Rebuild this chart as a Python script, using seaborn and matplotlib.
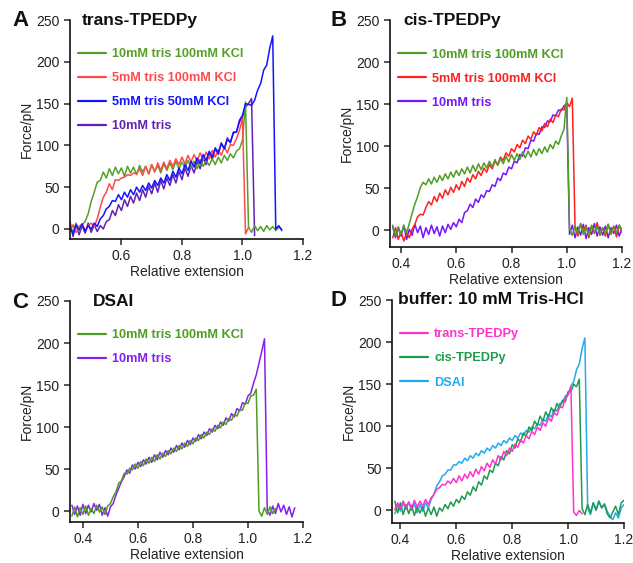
import numpy as np
import matplotlib
matplotlib.use("Agg")
import matplotlib.pyplot as plt
import seaborn as sns

sns.set_style("ticks")
plt.rcParams['font.family'] = ['Liberation Sans', 'DejaVu Sans']

STEP = 0.01

# ---- panel A: trans-TPEDPy ----
a_green_x0 = 0.43
a_green = [3, -5, 7, -3, 5, 9, 18, 33, 44, 56, 58, 68, 61, 72, 64, 74, 66, 73, 63, 75,
           67, 74, 65, 76, 68, 75, 66, 77, 69, 76, 67, 78, 70, 79, 71, 81, 72, 80, 73, 82,
           74, 81, 72, 83, 75, 82, 76, 84, 77, 86, 79, 88, 82, 90, 85, 93, 96, 106, 152, 2,
           -4, 4, -2, 3, -3, 4, -1, 3, -2, 2, 0]
a_red_x0 = 0.43
a_red = [-3, 5, -4, 3, 6, -2, 4, 7, 3, 12, 26, 38, 44, 54, 47, 59, 58, 61, 62, 65,
         64, 67, 66, 72, 64, 75, 66, 77, 68, 79, 70, 80, 72, 82, 75, 84, 77, 86, 78, 88,
         80, 89, 81, 91, 83, 92, 84, 94, 86, 95, 88, 98, 91, 101, 100, 108, 118, 132, -6, 2]
a_blue_x0 = 0.43
a_blue = [3, -6, 5, -1, 6, -3, 4, 0, 7, 3, 12, 16, 24, 27, 34, 33, 41, 35, 44, 38,
          47, 41, 50, 44, 52, 46, 55, 49, 58, 52, 61, 55, 65, 58, 69, 62, 73, 66, 77, 70,
          81, 74, 85, 78, 89, 82, 93, 86, 97, 91, 102, 96, 107, 104, 115, 116, 130, 136, 150, 149,
          148, 154, 166, 174, 190, 196, 216, 231, 0, 4, -2]
a_purple_x0 = 0.43
a_purple = [9, -9, 6, -7, 4, -5, 7, -4, 5, -3, 4, 0, 9, 11, 22, 16, 29, 22, 35, 27,
            39, 31, 43, 34, 47, 38, 51, 42, 55, 44, 58, 48, 61, 52, 65, 55, 69, 59, 73, 63,
            76, 67, 81, 72, 85, 77, 91, 83, 96, 89, 103, 96, 109, 103, 116, 116, 128, 134, 146, 150,
            156, -8]

# ---- panel B: cis-TPEDPy ----
b_green_x0 = 0.37
b_green = [6, -7, 4, -5, 5, -3, 8, 20, 31, 40, 51, 57, 54, 61, 55, 63, 57, 65, 59, 67,
           61, 69, 63, 71, 65, 73, 67, 75, 68, 77, 70, 79, 72, 80, 74, 82, 75, 84, 77, 85,
           79, 88, 81, 90, 83, 91, 84, 93, 86, 94, 87, 96, 89, 97, 91, 99, 93, 102, 97, 106,
           102, 112, 120, 158,
           2, -6, 5, -4, 7, -5, 4, -7, 6, -3, 5, -6, 3, -4, 7, -5, 4, -3, 6, 0]
b_red_x0 = 0.37
b_red = [-9, 3, -11, -2, -13, -3, -9, 1, 7, 16, 19, 18, 27, 34, 30, 40, 34, 44, 38, 48,
         42, 51, 45, 54, 48, 58, 52, 62, 57, 66, 61, 70, 65, 74, 69, 78, 73, 82, 78, 87,
         83, 92, 88, 97, 93, 102, 98, 107, 103, 112, 108, 117, 113, 122, 118, 127, 123, 132, 128, 137,
         135, 144, 143, 152, 147, 157,
         3, -7, 8, -3, 6, -9, 5, -4, 9, -6, 3, -7, 7, -4, 5, -8, 6, -3]
b_purple_x0 = 0.37
b_purple = [4, -9, 3, -7, 6, -11, 1, -6, 7, -3, 5, -9, 3, -5, 6, -4, 4, -7, 5, -3,
            7, 1, 9, 4, 13, 9, 21, 23, 31, 27, 37, 33, 42, 39, 47, 46, 54, 52, 62, 59,
            68, 66, 75, 73, 82, 80, 90, 88, 98, 97, 107, 106, 115, 114, 123, 122, 130, 129, 137, 136,
            143, 142, 148, 150,
            -5, 6, -9, 4, -6, 7, -10, 3, -5, 8, -7, 4, -6, 5, -9, 3, -4, 6, -7, 2]

# ---- panel C: DSAI ----
c_green_x0 = 0.36
c_green = [-6, 5, -7, 4, -4, 6, -5, 3, -3, 7, -1, 5, -4, 6, 9, 17, 23, 33, 36, 45,
           44, 51, 49, 56, 51, 59, 54, 62, 57, 64, 59, 67, 62, 69, 65, 72, 68, 75, 71, 78,
           74, 81, 77, 84, 80, 87, 84, 91, 87, 94, 91, 98, 95, 102, 99, 106, 103, 110, 108, 115,
           113, 121, 120, 129, 128, 137, 138, 145, 0, -6, 4, -4, 5, -3, 3]
c_purple_x0 = 0.36
c_purple = [7, -4, 6, -5, 8, -3, 7, -1, 9, 1, 8, -5, 4, -6, 5, 9, 19, 27, 35, 41,
            49, 45, 55, 50, 58, 53, 61, 56, 64, 58, 67, 61, 70, 64, 72, 67, 75, 70, 78, 73,
            81, 76, 84, 79, 87, 83, 91, 86, 94, 90, 98, 94, 102, 98, 106, 102, 111, 107, 116, 112,
            122, 119, 129, 127, 137, 140, 152, 162, 176, 190, 205,
            2, -5, 6, -3, 9, -1, 7, -4, 5, -7, 4]

# ---- panel D: buffer 10 mM Tris-HCl ----
d_magenta_x0 = 0.38
d_magenta = [1, 9, 2, 11, 3, 10, 2, 12, 4, 11, 5, 13, 7, 15, 19, 25, 27, 31, 30, 35,
             32, 38, 33, 41, 35, 43, 38, 46, 40, 49, 43, 52, 47, 56, 51, 60, 55, 65, 60, 70,
             65, 74, 70, 79, 75, 84, 80, 89, 85, 94, 90, 99, 95, 104, 100, 110, 106, 116, 113, 123,
             122, 133, 137, 147, -2, -6, 0, -4]
d_green_x0 = 0.38
d_green = [11, -3, 9, -5, 7, -4, 6, -6, 4, -3, 5, -7, 3, -5, 4, -7, 3, -1, 7, 2,
           10, 5, 13, 9, 17, 13, 22, 18, 28, 23, 34, 30, 41, 37, 48, 45, 56, 53, 64, 60,
           71, 67, 78, 74, 85, 81, 92, 88, 99, 95, 106, 101, 112, 106, 117, 111, 122, 116, 127, 122,
           131, 129, 141, 141, 150, 147, 156,
           2, -5, 7, -3, 9, 0, 11, 3, 7, -4, -9, -2, 5, -5, 9, 12]
d_cyan_x0 = 0.38
d_cyan = [-4, 7, -1, 9, 1, 10, 0, 8, -3, 7, -1, 9, 3, 13, 19, 29, 34, 41, 43, 48,
          48, 54, 54, 58, 56, 62, 59, 65, 62, 68, 65, 71, 68, 74, 71, 77, 74, 80, 77, 83,
          80, 86, 83, 89, 86, 92, 89, 95, 93, 99, 97, 103, 101, 108, 106, 114, 111, 120, 118, 127,
          128, 136, 138, 148, 153, 167, 174, 192, 205,
          3, -5, 9, 1, 11, 3, 8, -1, -7, -11, -3, -9, 3, 7]


def xs(x0, ys):
    return np.round(x0 + STEP * np.arange(len(ys)), 3)


W, H = 633, 563
fig = plt.figure(figsize=(W / 100, H / 100), dpi=100)


def make_ax(px_left, px_top, px_right, px_bottom):
    return fig.add_axes([px_left / W, 1 - px_bottom / H,
                         (px_right - px_left) / W, (px_bottom - px_top) / H])


panels = [
    dict(box=(70, 20, 303, 239), xlim=(0.43, 1.2), ylim=(-12, 250),
         xticks=[0.6, 0.8, 1.0, 1.2], letter="A", letter_xy=(12, 20),
         title="trans-TPEDPy", title_dx=12,
         traces=[("10mM tris 100mM KCl", a_green_x0, a_green, "#56a02a"),
                 ("5mM tris 100mM KCl", a_red_x0, a_red, "#ff4a4a"),
                 ("5mM tris 50mM KCl", a_blue_x0, a_blue, "#1414ff"),
                 ("10mM tris", a_purple_x0, a_purple, "#6420b4")],
         order=[3, 0, 1, 2]),
    dict(box=(390, 20, 622, 247), xlim=(0.36, 1.2), ylim=(-20, 250),
         xticks=[0.4, 0.6, 0.8, 1.0, 1.2], letter="B", letter_xy=(330, 20),
         title="cis-TPEDPy", title_dx=13,
         traces=[("10mM tris 100mM KCl", b_green_x0, b_green, "#4f9d24"),
                 ("5mM tris 100mM KCl", b_red_x0, b_red, "#ff2020"),
                 ("10mM tris", b_purple_x0, b_purple, "#7814ff")],
         order=[2, 1, 0]),
    dict(box=(70, 301, 303, 522), xlim=(0.353, 1.2), ylim=(-13, 250),
         xticks=[0.4, 0.6, 0.8, 1.0, 1.2], letter="C", letter_xy=(12, 302),
         title="DSAI", title_dx=23,
         traces=[("10mM tris 100mM KCl", c_green_x0, c_green, "#4f9d1e"),
                 ("10mM tris", c_purple_x0, c_purple, "#8420f0")],
         order=[1, 0]),
    dict(box=(392, 300, 624, 523), xlim=(0.37, 1.2), ylim=(-15, 250),
         xticks=[0.4, 0.6, 0.8, 1.0, 1.2], letter="D", letter_xy=(330, 300),
         title="buffer: 10 mM Tris-HCl", title_dx=6,
         traces=[("trans-TPEDPy", d_magenta_x0, d_magenta, "#ff33cc"),
                 ("cis-TPEDPy", d_green_x0, d_green, "#1f9a4f"),
                 ("DSAI", d_cyan_x0, d_cyan, "#22aaee")],
         order=[2, 1, 0]),
]

for p in panels:
    ax = make_ax(*p["box"])
    handles = {}
    for i in p["order"]:
        label, x0, ys, color = p["traces"][i]
        sns.lineplot(x=xs(x0, ys), y=ys, ax=ax, color=color, lw=1.1,
                     estimator=None, sort=False, legend=False)
        handles[i] = ax.lines[-1]
    ax.set_xlim(*p["xlim"])
    ax.set_ylim(*p["ylim"])
    ax.set_xticks(p["xticks"])
    ax.set_xticklabels([f"{t:.1f}" for t in p["xticks"]])
    ax.set_yticks([0, 50, 100, 150, 200, 250])
    ax.tick_params(labelsize=10, length=4, width=1.1, direction="out",
                   labelcolor="#222222")
    for s in ["left", "bottom"]:
        ax.spines[s].set_linewidth(1.2)
        ax.spines[s].set_color("#111111")
    sns.despine(ax=ax)
    ax.set_xlabel("Relative extension", fontsize=10, labelpad=1, color="#222222")
    ax.set_ylabel("Force/pN", fontsize=10, labelpad=2, color="#222222")

    hs = [handles[i] for i in range(len(p["traces"]))]
    labels = [t[0] for t in p["traces"]]
    ph = p["box"][3] - p["box"][1]
    leg = ax.legend(hs, labels, loc="upper left", bbox_to_anchor=(0.0, 0.93 - 5.0 / ph),
                    frameon=False, handlelength=2.2, handletextpad=0.5,
                    labelspacing=0.95, borderaxespad=0.2,
                    prop=dict(weight="bold", size=9.2))
    for txt, t in zip(leg.get_texts(), p["traces"]):
        txt.set_color(t[3])
    for line in leg.get_lines():
        line.set_linewidth(1.6)

    bw = p["box"][2] - p["box"][0]
    ax.text(p["title_dx"] / bw, 1.0, p["title"], transform=ax.transAxes,
            fontsize=12.5, fontweight="bold", va="center", ha="left", color="#111111")
    lx, ly = p["letter_xy"]
    fig.text(lx / W, 1 - ly / H, p["letter"], fontsize=16, fontweight="bold",
             va="center", ha="left", color="#111111")

fig.savefig("out.png", dpi=100)
